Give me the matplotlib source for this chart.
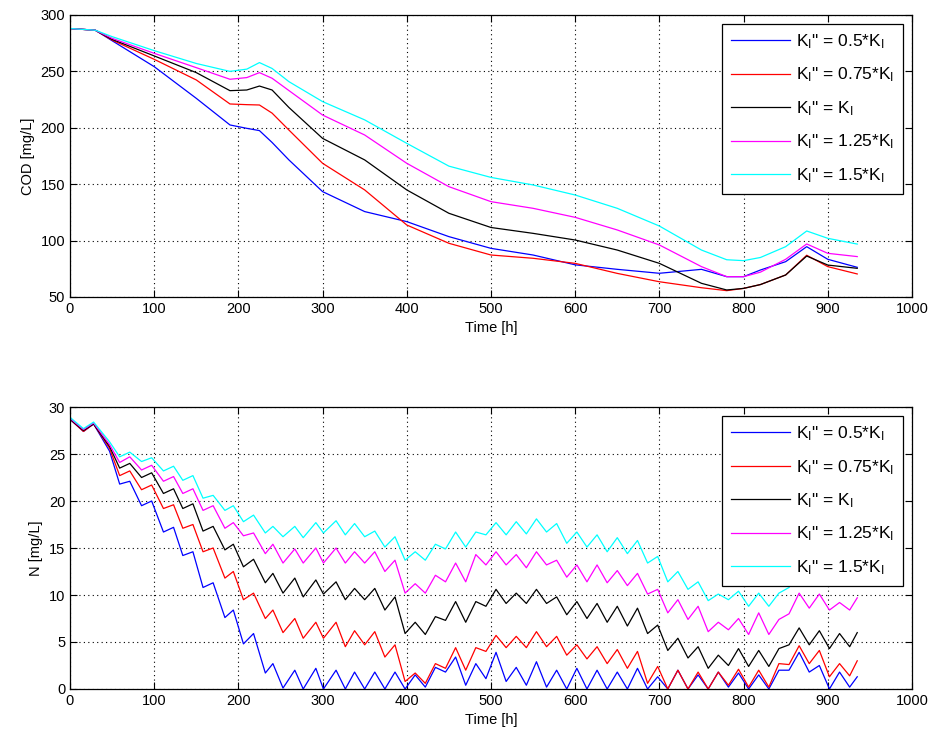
import numpy as np
import matplotlib.pyplot as plt

plt.rcParams['font.family'] = ['Liberation Sans', 'DejaVu Sans']
plt.rcParams['mathtext.default'] = 'regular'

labels = [r'K$_I$" = 0.5*K$_I$', r'K$_I$" = 0.75*K$_I$', r'K$_I$" = K$_I$',
          r'K$_I$" = 1.25*K$_I$', r'K$_I$" = 1.5*K$_I$']
colors = ['#0000FF', '#FF0000', '#000000', '#FF00FF', '#00FFFF']

# COD (top)
t_cod = [0, 30, 50, 100, 150, 190, 210, 225, 240, 260, 300, 350, 400, 450, 500,
         550, 600, 650, 700, 750, 780, 800, 820, 850, 875, 900, 935]
cod_05 = [288, 286.5, 277.2, 254.2, 226.1, 202.5, 199.5, 197.5, 187, 171.5, 143.4, 125.7, 116.8, 103.5, 93.1,
          87.2, 78.5, 74.5, 71, 74.5, 68, 68, 73.9, 81.3, 94.6, 83.4, 76.3]
cod_075 = [288, 286.5, 277.8, 260.7, 242.4, 221.1, 220.5, 220.2, 213, 198, 168.5, 144.9, 113.8, 97.6, 87.2,
           84.3, 79.8, 70.9, 63.5, 58.2, 55.6, 57.6, 61, 69.5, 87, 76.9, 70.4]
cod_1 = [288, 286.5, 278.4, 263.7, 248.9, 232.9, 233.5, 237, 233.5, 218, 190.6, 171.5, 144.9, 124.2, 111.6,
         106.4, 100.5, 91.6, 79.8, 62.1, 56.2, 57.6, 61, 69.5, 86.3, 78.3, 75.4]
cod_125 = [288, 286.5, 279.3, 266, 253.3, 243, 244.5, 248.9, 243.9, 233, 211.3, 193.6, 168.5, 147.8, 134.5,
           128.6, 120.6, 109.4, 96.1, 76.9, 68, 68, 72, 83.4, 97, 88.7, 85.8]
cod_15 = [288, 286.5, 280.8, 268.4, 257, 250, 252, 257.8, 252.6, 240.9, 223.2, 207, 186.2, 166, 156,
          149.3, 140.4, 128.6, 112.9, 91.6, 83, 82.2, 85, 94.6, 108.5, 102, 96.9]

# N (bottom)
t_n = [0, 16, 28, 47, 59, 71, 85, 97, 111, 123, 134, 146, 158, 170, 184, 194, 206, 218, 232, 241,
       253, 267, 277, 292, 301, 316, 327, 338, 350, 362, 374, 386, 398, 410, 422, 434, 446, 458,
       470, 482, 494, 506, 518, 530, 542, 554, 566, 578, 590, 602, 614, 626, 638, 650, 662, 674,
       686, 698, 710, 722, 734, 746, 758, 770, 782, 794, 806, 818, 830, 842, 854, 866, 878, 890,
       902, 914, 926, 935]
n_05 = [28.7, 27.4, 28.2, 25.3, 21.8, 22.1, 19.5, 20.0, 16.7, 17.2, 14.2, 14.6, 10.8, 11.3, 7.6, 8.4,
        4.8, 5.9, 1.7, 2.7, 0.1, 2.0, 0.0, 2.2, 0.0, 2.0, 0.0, 1.8, 0.0, 1.8, 0.0, 1.8, 0.0, 1.5,
        0.2, 2.3, 1.8, 3.4, 0.4, 2.7, 1.1, 3.9, 0.8, 2.3, 0.4, 2.9, 0.2, 2.0, 0.0, 2.2, 0.0, 2.0,
        0.0, 1.8, 0.0, 2.2, 0.0, 1.3, 0.0, 2.0, 0.0, 1.5, 0.0, 1.8, 0.2, 1.7, 0.0, 1.5, 0.0, 2.0,
        2.0, 3.9, 1.8, 2.5, 0.0, 1.8, 0.2, 1.3]
n_075 = [28.7, 27.4, 28.2, 25.6, 22.7, 23.2, 21.2, 21.7, 19.2, 19.6, 17.1, 17.5, 14.6, 15.0, 11.8, 12.5,
         9.5, 10.2, 7.5, 8.4, 6.0, 7.5, 5.4, 7.1, 5.4, 7.1, 4.5, 6.2, 4.7, 6.1, 3.4, 4.7, 0.8, 1.7,
         0.6, 2.7, 2.2, 4.4, 2.0, 4.4, 4.0, 5.7, 4.4, 5.6, 4.4, 6.1, 4.5, 5.6, 3.6, 4.7, 3.2, 4.5,
         2.7, 4.2, 2.2, 4.0, 0.6, 2.4, 0.0, 2.0, 0.0, 1.8, 0.0, 1.8, 0.4, 2.1, 0.2, 2.0, 0.2, 2.7,
         2.6, 4.6, 2.7, 4.1, 1.3, 2.7, 1.4, 3.0]
n_1 = [28.7, 27.5, 28.2, 25.8, 23.5, 24.0, 22.5, 23.0, 20.8, 21.3, 19.2, 19.7, 16.8, 17.3, 14.8, 15.4,
       13.0, 13.8, 11.3, 12.3, 10.2, 11.8, 9.8, 11.6, 10.1, 11.4, 9.5, 10.7, 9.5, 10.7, 8.4, 9.8, 5.9,
       7.1, 5.8, 7.7, 7.3, 9.3, 7.1, 9.3, 8.8, 10.6, 9.1, 10.2, 9.1, 10.6, 9.1, 9.8, 7.9, 9.3, 7.5,
       9.1, 7.1, 8.8, 6.7, 8.6, 5.9, 6.8, 4.1, 5.4, 3.3, 4.5, 2.2, 3.6, 2.5, 4.3, 2.4, 4.1, 2.4, 4.3,
       4.7, 6.5, 4.7, 6.2, 4.3, 5.9, 4.5, 6.0]
n_125 = [28.8, 27.6, 28.3, 26.0, 24.1, 24.7, 23.3, 23.8, 22.1, 22.6, 20.8, 21.3, 19.0, 19.5, 17.1, 17.7,
         16.3, 16.6, 14.4, 15.4, 13.4, 14.9, 13.4, 15.0, 13.4, 15.0, 13.4, 14.6, 13.4, 14.6, 12.5, 13.7,
         10.2, 11.2, 10.2, 12.1, 11.4, 13.4, 11.4, 14.3, 13.2, 14.6, 13.2, 14.3, 12.9, 14.6, 13.2, 13.7,
         11.9, 13.2, 11.4, 13.2, 11.3, 12.6, 11.0, 12.3, 10.1, 10.6, 8.1, 9.5, 7.4, 8.8, 6.1, 7.1, 6.3,
         7.5, 5.8, 8.1, 5.8, 7.4, 8.0, 10.2, 8.6, 10.1, 8.4, 9.2, 8.4, 9.7]
n_15 = [28.9, 27.7, 28.4, 26.3, 24.7, 25.2, 24.2, 24.6, 23.2, 23.7, 22.2, 22.7, 20.3, 20.6, 19.0, 19.5,
        17.8, 18.5, 16.6, 17.3, 16.2, 17.3, 16.1, 17.7, 16.6, 17.9, 16.4, 17.6, 16.2, 16.8, 15.1, 16.2,
        13.7, 14.6, 13.7, 15.4, 14.9, 16.7, 15.1, 16.7, 16.4, 17.7, 16.4, 17.8, 16.5, 18.1, 16.7, 17.6,
        15.5, 16.7, 15.1, 16.4, 14.6, 16.1, 14.4, 15.8, 13.4, 14.1, 11.4, 12.5, 10.6, 11.4, 9.4, 10.1,
        9.5, 10.4, 8.8, 10.2, 8.8, 10.2, 10.8, 12.6, 12.0, 12.8, 11.0, 12.2, 11.0, 11.6]

cod = [cod_05, cod_075, cod_1, cod_125, cod_15]
nit = [n_05, n_075, n_1, n_125, n_15]

fig = plt.figure(figsize=(9.32, 7.38), dpi=100)
ax1 = fig.add_axes([0.0751, 0.5976, 0.9034, 0.3821])
ax2 = fig.add_axes([0.0751, 0.0664, 0.9034, 0.3821])


def style(ax):
    ax.grid(True, linestyle=(0, (1, 3)), color='k', linewidth=0.8)
    ax.tick_params(direction='in', top=True, right=True, labelsize=10.5, length=5, width=0.8)
    for s in ax.spines.values():
        s.set_linewidth(0.9)
    ax.set_xlim(0, 1000)
    ax.set_xticks(range(0, 1001, 100))
    ax.set_xlabel('Time [h]', fontsize=10.5)


for y, c, lab in zip(cod, colors, labels):
    ax1.plot(t_cod, y, color=c, linewidth=0.9, label=lab)
ax1.set_ylim(50, 300)
ax1.set_yticks(range(50, 301, 50))
ax1.set_ylabel('COD [mg/L]', fontsize=10.5)
style(ax1)

for y, c, lab in zip(nit, colors, labels):
    ax2.plot(t_n, y, color=c, linewidth=0.9, label=lab)
ax2.set_ylim(0, 30)
ax2.set_yticks(range(0, 31, 5))
ax2.set_ylabel('N [mg/L]', fontsize=10.5)
style(ax2)

for ax in (ax1, ax2):
    leg = ax.legend(loc='upper right', fontsize=12.5, handlelength=3.4, handletextpad=0.4,
                    fancybox=False, framealpha=1, edgecolor='k', borderaxespad=0.5,
                    labelspacing=0.85, borderpad=0.5)
    leg.get_frame().set_linewidth(0.9)

fig.savefig('out.png', dpi=100)
